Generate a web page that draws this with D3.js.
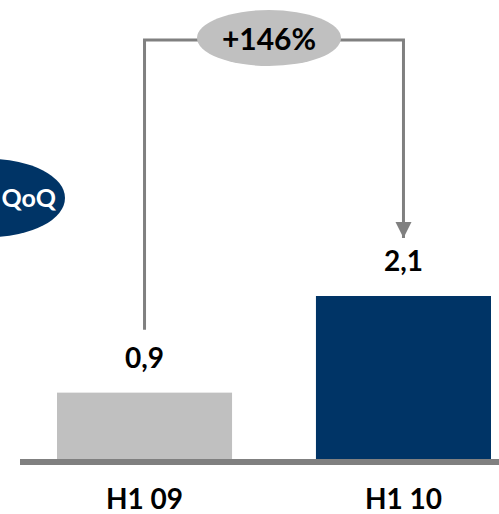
<!DOCTYPE html>
<html><head><meta charset="utf-8">
<script src="https://cdn.jsdelivr.net/npm/d3@7"></script>
<style>body{margin:0;background:#fff}svg{display:block}</style>
</head><body>
<svg id="c" width="499" height="514"></svg>
<script>
const categories = ["H1 09", "H1 10"];
const values = [0.855, 2.1];
const barColors = ["#c0c0c0", "#003466"];
const growthLabel = "+146%";
const badgeLabel = "QoQ";

const svg = d3.select("#c");
const font = "Lato, 'Open Sans', sans-serif";
const x = d3.scaleBand().domain(categories).range([57, 491]).paddingInner(0.324).paddingOuter(0);
const y = d3.scaleLinear().domain([0, 2.1]).range([459, 296]);
const fmt = v => d3.format(".1f")(v).replace(".", ",");

// bars
svg.selectAll("rect.bar").data(values).join("rect").attr("class","bar")
  .attr("x",(d,i)=>x(categories[i])).attr("width",x.bandwidth())
  .attr("y",d=>y(d)).attr("height",d=>y(0)-y(d))
  .attr("fill",(d,i)=>barColors[i]);

// baseline
svg.append("rect").attr("x",20).attr("width",479).attr("y",y(0)).attr("height",6).attr("fill","#808080");

// value labels
svg.selectAll("text.val").data(values).join("text").attr("class","val")
  .attr("x",(d,i)=>x(categories[i])+x.bandwidth()/2)
  .attr("y",d=>y(d)-25)
  .attr("text-anchor","middle").attr("font-family",font).attr("font-weight","bold")
  .attr("font-size",28).attr("fill","#000").text(fmt);

// category labels
svg.selectAll("text.cat").data(categories).join("text").attr("class","cat")
  .attr("x",d=>x(d)+x.bandwidth()/2).attr("y",509)
  .attr("text-anchor","middle").attr("font-family",font).attr("font-weight","bold")
  .attr("font-size",28).attr("fill","#000").text(d=>d);

// bracket
const cx0 = x(categories[0])+x.bandwidth()/2, cx1 = x(categories[1])+x.bandwidth()/2;
const topY = 40;
svg.append("defs").append("marker").attr("id","arr").attr("viewBox","0 0 10 10")
  .attr("refX",10).attr("refY",5).attr("markerWidth",5.5).attr("markerHeight",5.5)
  .attr("markerUnits","strokeWidth").attr("orient","auto")
  .append("path").attr("d","M0,0L10,5L0,10Z").attr("fill","#808080");
svg.append("path")
  .attr("d",`M${cx0},${y(values[0])-63}V${topY}H${cx1}V${y(values[1])-58}`)
  .attr("fill","none").attr("stroke","#808080").attr("stroke-width",3)
  .attr("marker-end","url(#arr)");
const ex = (cx0+cx1)/2-5;
svg.append("ellipse").attr("cx",ex).attr("cy",38).attr("rx",72).attr("ry",28).attr("fill","#c0c0c0");
svg.append("text").attr("x",ex).attr("y",50).attr("text-anchor","middle")
  .attr("font-family",font).attr("font-weight","bold").attr("font-size",30).attr("fill","#000").text(growthLabel);

// badge
svg.append("ellipse").attr("cx",-10).attr("cy",198).attr("rx",75).attr("ry",39).attr("fill","#003466");
svg.append("text").attr("x",56).attr("y",207).attr("text-anchor","end")
  .attr("font-family",font).attr("font-weight","bold").attr("font-size",25).attr("fill","#fff").text(badgeLabel);
</script>
</body></html>
